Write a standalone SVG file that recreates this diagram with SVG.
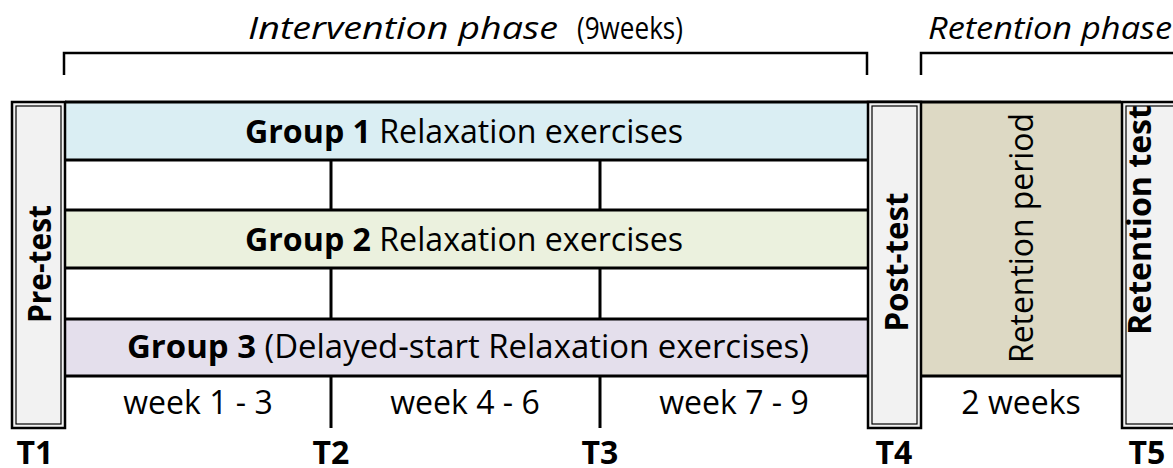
<svg xmlns="http://www.w3.org/2000/svg" width="1173" height="468" viewBox="0 0 1173 468">
  <style>
    text { font-family: "Open Sans", "Liberation Sans", sans-serif; font-size: 32px; fill: #000; }
    .b { font-weight: bold; }
    .i { font-style: italic; font-size: 31px; }
    .mid { text-anchor: middle; }
    .line { stroke: #000; stroke-width: 3; fill: none; }
    .bracket { stroke: #000; stroke-width: 2.5; fill: none; }
    .outer { fill: #f2f2f2; stroke: #000; stroke-width: 2.5; }
    .inner { fill: none; stroke: #000; stroke-width: 1.2; }
  </style>

  <rect width="1173" height="468" fill="#fff"/>

  <!-- phase headings with brackets -->
  <g id="intervention-phase">
    <path class="bracket" d="M64,75 V53 H867 V75"/>
    <text x="248" y="39" class="i" textLength="310" lengthAdjust="spacingAndGlyphs">Intervention phase</text>
    <text x="577" y="39" style="font-size:31px" textLength="106" lengthAdjust="spacingAndGlyphs">(9weeks)</text>
  </g>
  <g id="retention-phase">
    <path class="bracket" d="M921,75 V53 H1180"/>
    <text x="928" y="39" class="i" textLength="244" lengthAdjust="spacingAndGlyphs">Retention phase</text>
  </g>

  <!-- group rows -->
  <g id="group1">
    <rect x="65" y="102" width="803" height="58" fill="#daeef3"/>
    <text x="464" y="143" class="mid" textLength="438" lengthAdjust="spacingAndGlyphs"><tspan class="b">Group 1</tspan> Relaxation exercises</text>
  </g>
  <g id="group2">
    <rect x="65" y="210" width="803" height="58" fill="#ebf1de"/>
    <text x="464" y="251" class="mid" textLength="438" lengthAdjust="spacingAndGlyphs"><tspan class="b">Group 2</tspan> Relaxation exercises</text>
  </g>
  <g id="group3">
    <rect x="65" y="319" width="803" height="57" fill="#e4dfec"/>
    <text x="468" y="358" class="mid" textLength="682" lengthAdjust="spacingAndGlyphs"><tspan class="b">Group 3</tspan> (Delayed-start Relaxation exercises)</text>
  </g>

  <!-- retention period block -->
  <g id="retention-period">
    <rect x="922" y="102" width="199" height="274" fill="#ddd9c4"/>
    <text transform="translate(1033,238) rotate(-90)" class="mid" textLength="250" lengthAdjust="spacingAndGlyphs">Retention period</text>
    <text x="1021" y="414" class="mid">2 weeks</text>
  </g>

  <!-- grid lines and time markers -->
  <g id="connectors">
    <path class="line" d="M65,102 H1121 M65,160 H868 M65,210 H868 M65,268 H868 M65,319 H868 M65,376 H868 M922,376 H1121"/>
    <path class="line" d="M331,160 V210 M600,160 V210 M331,268 V319 M600,268 V319 M331,376 V428 M600,376 V428"/>
  </g>

  <!-- week labels -->
  <g id="weeks">
    <text x="198" y="414" class="mid">week 1 - 3</text>
    <text x="465" y="414" class="mid">week 4 - 6</text>
    <text x="734" y="414" class="mid">week 7 - 9</text>
  </g>

  <!-- test columns -->
  <g id="pre-test">
    <rect class="outer" x="12" y="102" width="53" height="326"/>
    <rect class="inner" x="16" y="106" width="45" height="318"/>
    <text transform="translate(51,264) rotate(-90)" class="mid b" textLength="118" lengthAdjust="spacingAndGlyphs">Pre-test</text>
  </g>
  <g id="post-test">
    <rect class="outer" x="868" y="102" width="53" height="326"/>
    <rect class="inner" x="872" y="106" width="45" height="318"/>
    <text transform="translate(908,262) rotate(-90)" class="mid b" textLength="139" lengthAdjust="spacingAndGlyphs">Post-test</text>
  </g>
  <g id="retention-test">
    <rect class="outer" x="1122" y="102" width="60" height="326"/>
    <rect class="inner" x="1126" y="106" width="52" height="318"/>
    <text transform="translate(1151,220) rotate(-90)" class="mid b" textLength="230" lengthAdjust="spacingAndGlyphs">Retention test</text>
  </g>

  <!-- time points -->
  <g id="time-points">
    <text x="35" y="464" class="mid b">T1</text>
    <text x="331" y="464" class="mid b">T2</text>
    <text x="600" y="464" class="mid b">T3</text>
    <text x="894" y="464" class="mid b">T4</text>
    <text x="1147" y="464" class="mid b">T5</text>
  </g>
</svg>
